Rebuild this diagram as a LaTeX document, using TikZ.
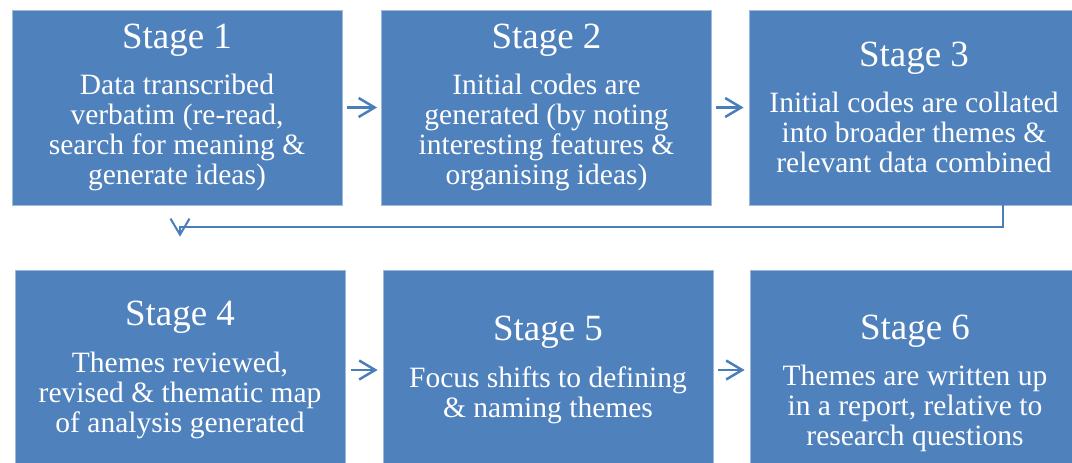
\documentclass[tikz,border=0pt]{standalone}
\usepackage{fontspec}
\setmainfont{Liberation Serif}
\usetikzlibrary{arrows.meta}
\definecolor{stageblue}{HTML}{4F81BD}
\definecolor{linkblue}{HTML}{4A7EBB}
\tikzset{
	stagebox/.style={fill=stageblue, draw=stageblue!55!white, line width=0.8pt, text=white, align=center, inner sep=0pt, minimum width=330pt, minimum height=195pt, font=\fontsize{29.5}{30}\selectfont},
	link/.style={draw=linkblue, line width=2.5pt, -{Straight Barb[length=16pt,width=19pt]}}
}
\newcommand{\stagehead}[1]{{\fontsize{37}{44}\selectfont #1}\\[16.5pt]}

\begin{document}
\begin{tikzpicture}[x=1pt, y=-1pt]
			%%%%% START %%%%%
			\useasboundingbox (0, 0) rectangle (1072, 463);
			\clip (0, 0) rectangle (1072, 463);
			
			\node[stagebox] (s1) at (177, 107.5) {\stagehead{Stage 1}Data transcribed\\verbatim (re-read,\\search for meaning \&\\generate ideas)};
			\node[stagebox] (s2) at (546.5, 107.5) {\stagehead{Stage 2}Initial codes are\\generated (by noting\\interesting features \&\\organising ideas)};
			\node[stagebox] (s3) at (914, 107.5) {\stagehead{Stage 3}Initial codes are collated\\into broader themes \&\\relevant data combined};
			
			\node[stagebox, minimum height=200pt] (s4) at (180, 370) {\stagehead{Stage 4}Themes reviewed,\\revised \& thematic map\\of analysis generated};
			\node[stagebox, minimum height=200pt] (s5) at (548, 370) {\stagehead{Stage 5}Focus shifts to defining\\\& naming themes};
			\node[stagebox, minimum height=227pt] (s6) at (915, 383.5) {\stagehead{Stage 6}Themes are written up\\in a report, relative to\\research questions};
			
			\draw[link] ([xshift=5pt]s1.east) -- ([xshift=-4pt]s2.west);
			\draw[link] ([xshift=4pt]s2.east) -- ([xshift=-5pt]s3.west);
			\draw[link, line width=2pt] ([xshift=89pt]s3.south) -- ++(0, 22) -| ([yshift=33pt]s4.north);
			\draw[link] ([xshift=6pt]s4.east) -- ([xshift=-5pt]s5.west);
			\draw[link] ([xshift=5pt]s5.east) -- ([xshift=-5pt]s5.east -| s6.west);
			
			%%%%% END %%%%%
\end{tikzpicture}
\end{document}
